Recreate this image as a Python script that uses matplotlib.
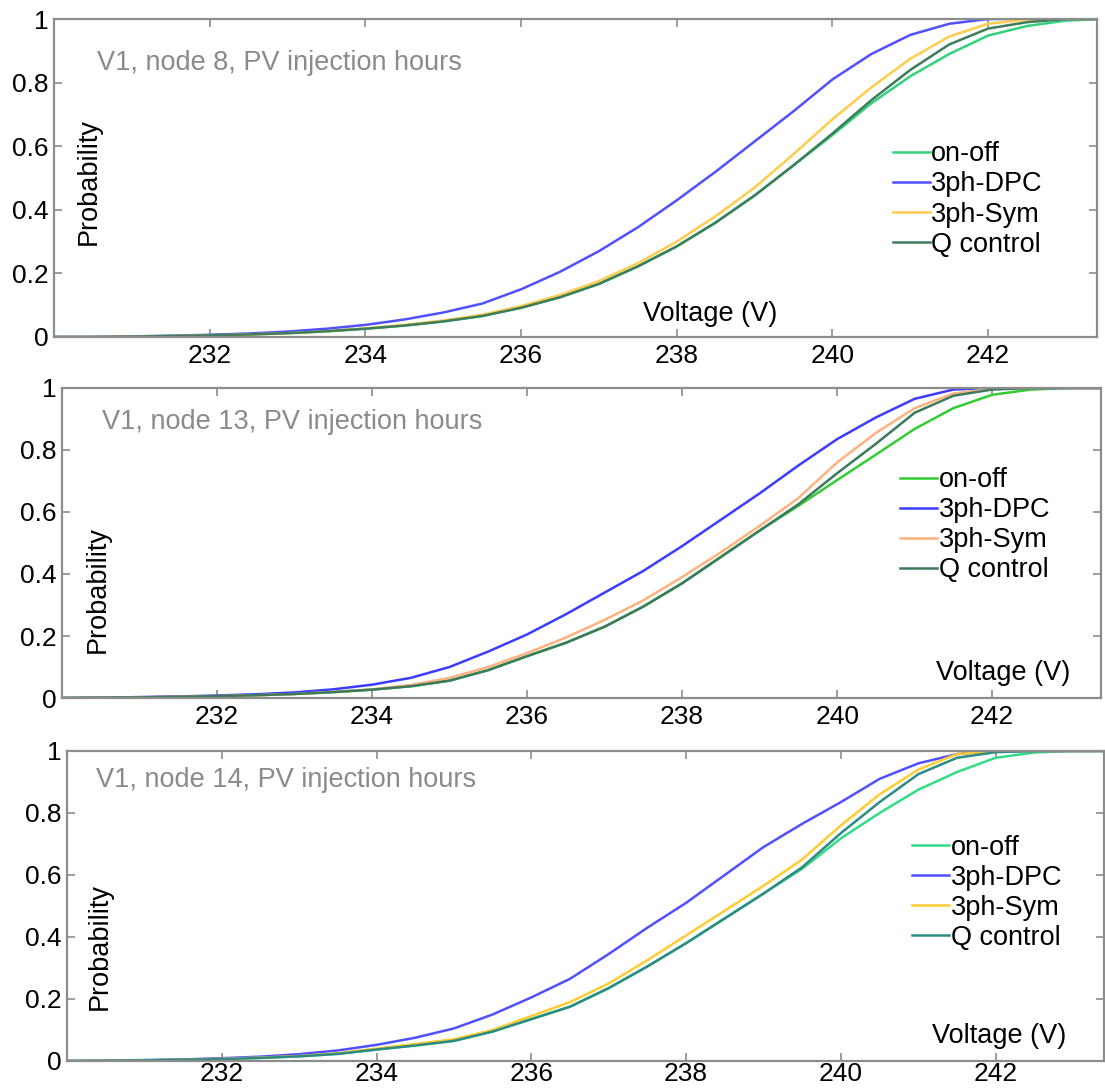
import numpy as np
import matplotlib
matplotlib.use('Agg')
import matplotlib.pyplot as plt

plt.rcParams['font.family'] = ['Liberation Sans', 'DejaVu Sans']

# voltage grid of the empirical CDFs (V)
volt = [230.0, 230.5, 231.0, 231.5, 232.0, 232.5, 233.0, 233.5, 234.0, 234.5,
        235.0, 235.5, 236.0, 236.5, 237.0, 237.5, 238.0, 238.5, 239.0, 239.5,
        240.0, 240.5, 241.0, 241.5, 242.0, 242.5, 243.0, 243.5]

labels = ['on-off', '3ph-DPC', '3ph-Sym', 'Q control']

# node 8
n8_onoff = [0, 0, 0.001, 0.003, 0.005, 0.008, 0.012, 0.018, 0.026, 0.036,
            0.049, 0.066, 0.092, 0.125, 0.167, 0.222, 0.285, 0.36, 0.445, 0.54,
            0.635, 0.735, 0.82, 0.89, 0.948, 0.978, 0.995, 1.0]
n8_dpc = [0, 0, 0.002, 0.004, 0.007, 0.011, 0.017, 0.026, 0.038, 0.055,
          0.077, 0.105, 0.15, 0.205, 0.27, 0.345, 0.43, 0.52, 0.615, 0.71,
          0.81, 0.89, 0.95, 0.985, 1.0, 1.0, 1.0, 1.0]
n8_sym = [0, 0, 0.001, 0.003, 0.005, 0.008, 0.012, 0.018, 0.027, 0.038,
          0.052, 0.07, 0.097, 0.132, 0.176, 0.232, 0.3, 0.38, 0.47, 0.575,
          0.685, 0.785, 0.875, 0.945, 0.985, 0.998, 1.0, 1.0]
n8_q = [0, 0, 0.001, 0.003, 0.005, 0.008, 0.012, 0.018, 0.026, 0.036,
        0.049, 0.066, 0.092, 0.125, 0.167, 0.222, 0.285, 0.36, 0.445, 0.54,
        0.64, 0.745, 0.84, 0.92, 0.97, 0.99, 1.0, 1.0]

# node 13
n13_onoff = [0, 0.001, 0.002, 0.004, 0.006, 0.009, 0.013, 0.019, 0.027, 0.038,
             0.056, 0.09, 0.135, 0.178, 0.23, 0.295, 0.37, 0.455, 0.54, 0.62,
             0.703, 0.785, 0.868, 0.935, 0.978, 0.995, 1.0, 1.0]
n13_dpc = [0, 0.001, 0.003, 0.005, 0.008, 0.012, 0.018, 0.028, 0.043, 0.065,
           0.1, 0.15, 0.205, 0.27, 0.34, 0.41, 0.49, 0.575, 0.66, 0.75,
           0.835, 0.905, 0.965, 0.995, 1.0, 1.0, 1.0, 1.0]
n13_sym = [0, 0.001, 0.002, 0.004, 0.006, 0.009, 0.013, 0.02, 0.028, 0.042,
           0.065, 0.1, 0.145, 0.195, 0.252, 0.315, 0.39, 0.47, 0.555, 0.645,
           0.76, 0.855, 0.935, 0.982, 0.997, 1.0, 1.0, 1.0]
n13_q = [0, 0.001, 0.002, 0.004, 0.006, 0.009, 0.013, 0.019, 0.027, 0.038,
         0.056, 0.09, 0.135, 0.178, 0.23, 0.295, 0.37, 0.455, 0.54, 0.625,
         0.725, 0.82, 0.92, 0.975, 0.995, 1.0, 1.0, 1.0]

# node 14
n14_onoff = [0, 0.001, 0.002, 0.004, 0.006, 0.01, 0.015, 0.023, 0.037, 0.05,
             0.065, 0.095, 0.135, 0.175, 0.235, 0.305, 0.38, 0.46, 0.54, 0.62,
             0.718, 0.8, 0.875, 0.932, 0.978, 0.995, 1.0, 1.0]
n14_dpc = [0, 0.001, 0.003, 0.005, 0.009, 0.014, 0.022, 0.034, 0.052, 0.075,
           0.105, 0.15, 0.205, 0.265, 0.345, 0.43, 0.51, 0.6, 0.69, 0.765,
           0.835, 0.91, 0.96, 0.99, 1.0, 1.0, 1.0, 1.0]
n14_sym = [0, 0.001, 0.002, 0.004, 0.007, 0.011, 0.016, 0.025, 0.04, 0.055,
           0.07, 0.1, 0.145, 0.19, 0.25, 0.325, 0.405, 0.485, 0.565, 0.65,
           0.76, 0.86, 0.94, 0.99, 1.0, 1.0, 1.0, 1.0]
n14_q = [0, 0.001, 0.002, 0.004, 0.006, 0.01, 0.015, 0.023, 0.037, 0.05,
         0.065, 0.095, 0.135, 0.175, 0.235, 0.305, 0.38, 0.46, 0.54, 0.625,
         0.735, 0.835, 0.925, 0.978, 0.996, 1.0, 1.0, 1.0]

xticks = [232, 234, 236, 238, 240, 242]
yticks = [0, 0.2, 0.4, 0.6, 0.8, 1]
ytick_labels = ['0', '0.2', '0.4', '0.6', '0.8', '1']

panels = [
    dict(title='V1, node 8, PV injection hours',
         series=[n8_onoff, n8_dpc, n8_sym, n8_q],
         colors=['#33d17a', '#5050ff', '#ffcc4d', '#3d7d5a'],
         rect=[0.0489, 0.6914, 0.944, 0.2912], xpad=5,
         title_xy=(0.041, 0.862), ylab_xy=(0.033, 0.49), xlab_xy=(0.629, 0.072),
         leg_xy=(0.804, 0.615)),
    dict(title='V1, node 13, PV injection hours',
         series=[n13_onoff, n13_dpc, n13_sym, n13_q],
         colors=['#33cc33', '#3c3cff', '#ffb27f', '#3d7a5c'],
         rect=[0.0561, 0.3608, 0.940, 0.2839], xpad=5,
         title_xy=(0.039, 0.89), ylab_xy=(0.034, 0.35), xlab_xy=(0.906, 0.08),
         leg_xy=(0.807, 0.745)),
    dict(title='V1, node 14, PV injection hours',
         series=[n14_onoff, n14_dpc, n14_sym, n14_q],
         colors=['#33dd88', '#5050ff', '#ffcc33', '#2e8b83'],
         rect=[0.0606, 0.0284, 0.9385, 0.2839], xpad=0.5,
         title_xy=(0.028, 0.905), ylab_xy=(0.032, 0.37), xlab_xy=(0.899, 0.08),
         leg_xy=(0.815, 0.73)),
]

fig = plt.figure(figsize=(11.05, 10.92), dpi=100)
axis_grey = '#8c8c8c'

for p in panels:
    ax = fig.add_axes(p['rect'])
    for vals, col, lab in zip(p['series'], p['colors'], labels):
        ax.plot(volt, vals, color=col, lw=1.8, label=lab)

    ax.set_xlim(230, 243.4)
    ax.set_ylim(0, 1)
    ax.set_xticks(xticks)
    ax.set_yticks(yticks)
    ax.set_yticklabels(ytick_labels)
    ax.tick_params(direction='in', length=6, width=1.2, color=axis_grey,
                   top=True, right=True, labelsize=19)
    ax.tick_params(axis='x', pad=p['xpad'])
    ax.tick_params(axis='y', pad=4)
    for s in ax.spines.values():
        s.set_color(axis_grey)
        s.set_linewidth(1.6)

    ax.text(p['title_xy'][0], p['title_xy'][1], p['title'], transform=ax.transAxes,
            fontsize=19.5, color='#8a8a8a', ha='left', va='center')
    ax.text(p['ylab_xy'][0], p['ylab_xy'][1], 'Probability', transform=ax.transAxes,
            fontsize=19.5, rotation=90, ha='center', va='center')
    ax.text(p['xlab_xy'][0], p['xlab_xy'][1], 'Voltage (V)', transform=ax.transAxes,
            fontsize=19.5, ha='center', va='center')

    ax.legend(loc='upper left', bbox_to_anchor=p['leg_xy'], frameon=False,
              fontsize=19.5, handlelength=1.37, handletextpad=0.05,
              labelspacing=0.15, borderpad=0, borderaxespad=0)

fig.savefig('out.png', dpi=100)
